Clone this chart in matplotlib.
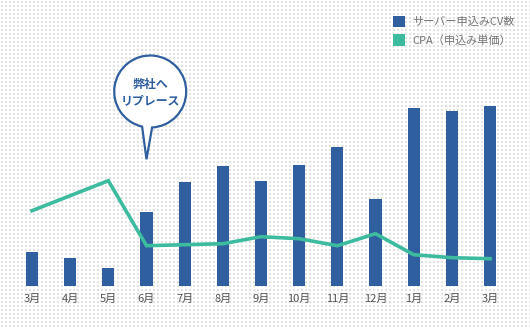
import numpy as np
import matplotlib.pyplot as plt
from matplotlib.patches import Patch, PathPatch
from matplotlib.path import Path

plt.rcParams['font.family'] = ['Noto Sans CJK JP', 'DejaVu Sans']

months = ['3月', '4月', '5月', '6月', '7月', '8月', '9月',
          '10月', '11月', '12月', '1月', '2月', '3月']
cv_counts = [34, 28, 18, 74, 104, 120, 105, 121, 139, 87, 178, 175, 180]
cpa = [75, 90, 105, 40, 41, 42, 49, 47, 40, 52, 31, 28, 27]

BAR_COLOR = '#2f5f9e'
LINE_COLOR = '#3dbb9f'

W, H, DPI = 530, 329, 100
fig = plt.figure(figsize=(W / DPI, H / DPI), dpi=DPI)

# dotted paper background
bg = np.ones((H, W, 3))
for yy in range(1, H, 4):
    for xx in range(1, W, 4):
        bg[yy:yy + 2, xx:xx + 2] = 0.89
fig.figimage(bg, xo=0, yo=0, zorder=-5)

base = 43.3
ax = fig.add_axes([0, base / H, 1, 1 - base / H])
ax.patch.set_alpha(0)
x = np.arange(len(months))
ax.set_xlim(-32 / 38.17, (W - 32) / 38.17)
ax.set_ylim(0, H - base)

ax.bar(x, cv_counts, width=0.32, color=BAR_COLOR, zorder=2)
ax.plot(x, cpa, color=LINE_COLOR, lw=2.6, zorder=3, solid_joinstyle='miter')

ax.set_xticks(x)
ax.set_xticklabels(months, fontsize=8, color='#555555')
ax.tick_params(axis='x', length=0, pad=6)
ax.set_yticks([])
for s in ax.spines.values():
    s.set_visible(False)

# speech bubble pointing at the switch month
tip = ax.transData.transform((3, 126.4))
cx, cy, r = tip[0] + 3.7, tip[1] + 67.8, 36
arc = Path.arc(273, 617)
verts = list(arc.vertices * r + [cx, cy])
codes = list(arc.codes)
verts += [tuple(tip), verts[0]]
codes += [Path.LINETO, Path.CLOSEPOLY]
bubble = PathPatch(Path(verts, codes), facecolor='white', edgecolor=BAR_COLOR,
                   lw=1.6, transform=None, zorder=5, joinstyle='miter')
fig.add_artist(bubble)
fig.text(cx / W, (cy - 1) / H, '弊社へ\nリプレース', ha='center', va='center',
         fontsize=8.6, fontweight='bold', color=BAR_COLOR, linespacing=1.3,
         zorder=6)

handles = [Patch(facecolor=BAR_COLOR), Patch(facecolor=LINE_COLOR)]
fig.legend(handles, ['サーバー申込みCV数', 'CPA（申込み単価）'],
           loc='upper left', bbox_to_anchor=(393 / W, 1 - 16 / H),
           frameon=False, fontsize=8, labelcolor='#777777',
           handlelength=1.1, handleheight=1.15, handletextpad=0.6,
           labelspacing=0.65, borderpad=0, borderaxespad=0)

fig.savefig('out.png', dpi=DPI)
